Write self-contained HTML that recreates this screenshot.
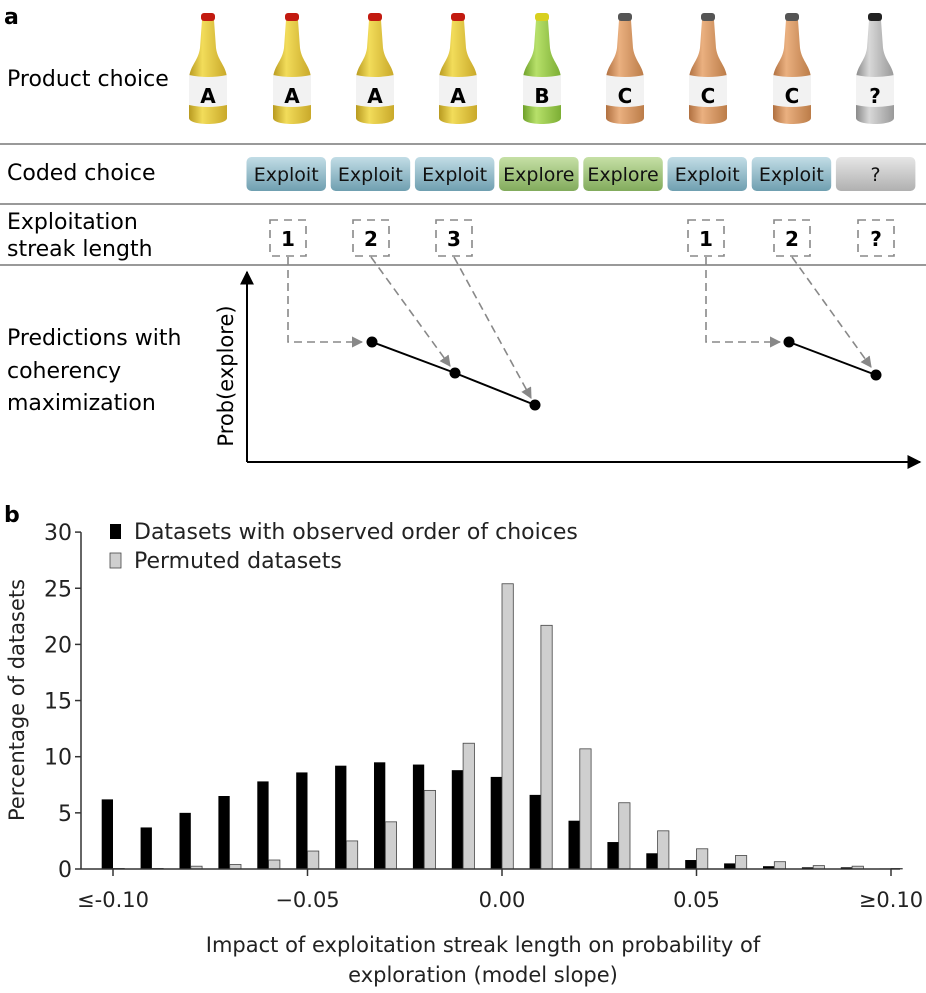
<!DOCTYPE html>
<html><head><meta charset="utf-8">
<style>
body{margin:0;background:#fff;width:926px;height:993px;overflow:hidden}
svg{display:block;font-family:"DejaVu Sans","Liberation Sans",sans-serif}
</style></head>
<body>
<svg id="fig" width="926" height="993" viewBox="0 0 926 993">
<defs>
 <linearGradient id="gA" x1="0" x2="1"><stop offset="0" stop-color="#b89a20"/><stop offset="0.35" stop-color="#f2dc5a"/><stop offset="1" stop-color="#c9a92a"/></linearGradient>
 <linearGradient id="gB" x1="0" x2="1"><stop offset="0" stop-color="#6ea02a"/><stop offset="0.35" stop-color="#b7e06a"/><stop offset="1" stop-color="#7cae34"/></linearGradient>
 <linearGradient id="gC" x1="0" x2="1"><stop offset="0" stop-color="#b07040"/><stop offset="0.35" stop-color="#eab080"/><stop offset="1" stop-color="#bb7c48"/></linearGradient>
 <linearGradient id="gQ" x1="0" x2="1"><stop offset="0" stop-color="#8a8a8a"/><stop offset="0.35" stop-color="#d8d8d8"/><stop offset="1" stop-color="#999"/></linearGradient>
 <linearGradient id="bX" x1="0" y1="0" x2="0" y2="1"><stop offset="0" stop-color="#c2dde6"/><stop offset="1" stop-color="#6f9fb0"/></linearGradient>
 <linearGradient id="bE" x1="0" y1="0" x2="0" y2="1"><stop offset="0" stop-color="#c6e0a6"/><stop offset="1" stop-color="#82ab5c"/></linearGradient>
 <linearGradient id="bQ" x1="0" y1="0" x2="0" y2="1"><stop offset="0" stop-color="#e6e6e6"/><stop offset="1" stop-color="#b0b0b0"/></linearGradient>
 <marker id="ah" viewBox="0 0 10 10" refX="9" refY="5" markerWidth="7" markerHeight="7" orient="auto"><path d="M0,0 L10,5 L0,10 z" fill="#888"/></marker>
 <marker id="ak" viewBox="0 0 10 10" refX="9" refY="5" markerWidth="7" markerHeight="7" orient="auto"><path d="M0,0 L10,5 L0,10 z" fill="#000"/></marker>
</defs>

<text x="4" y="24" font-size="22" font-weight="bold">a</text>
<text x="7" y="86" font-size="22">Product choice</text>
<g id="bottles"></g>
<line x1="0" y1="144" x2="926" y2="144" stroke="#999" stroke-width="2"/>
<text x="7" y="180" font-size="22">Coded choice</text>
<g id="buttons"></g>
<line x1="0" y1="204" x2="926" y2="204" stroke="#999" stroke-width="2"/>
<text x="7" y="229" font-size="22">Exploitation</text>
<text x="7" y="256" font-size="22">streak length</text>
<g id="boxes"></g>
<line x1="0" y1="265" x2="926" y2="265" stroke="#999" stroke-width="2"/>
<text x="7" y="345" font-size="22">Predictions with</text>
<text x="7" y="378" font-size="22">coherency</text>
<text x="7" y="410" font-size="22">maximization</text>
<text transform="translate(233,376) rotate(-90)" text-anchor="middle" font-size="21">Prob(explore)</text>
<line x1="247" y1="462" x2="247" y2="272" stroke="#000" stroke-width="2" marker-end="url(#ak)"/>
<line x1="247" y1="462" x2="920" y2="462" stroke="#000" stroke-width="2" marker-end="url(#ak)"/>
<g fill="none" stroke="#888" stroke-width="1.6" stroke-dasharray="8,5" marker-end="url(#ah)">
 <path d="M288,257 V342 H362"/>
 <path d="M371,257 L450,366"/>
 <path d="M454,257 L531,398"/>
 <path d="M706,257 V342 H780"/>
 <path d="M792,257 L871,367"/>
</g>
<polyline points="372,342 455,373 535,405" fill="none" stroke="#000" stroke-width="2"/>
<polyline points="789,342 876,375" fill="none" stroke="#000" stroke-width="2"/>
<g fill="#000">
 <circle cx="372" cy="342" r="5.5"/><circle cx="455" cy="373" r="5.5"/><circle cx="535" cy="405" r="5.5"/>
 <circle cx="789" cy="342" r="5.5"/><circle cx="876" cy="375" r="5.5"/>
</g>

<text x="4" y="522" font-size="22" font-weight="bold">b</text>
<g id="chart"></g>
</svg>
<script>
const NS='http://www.w3.org/2000/svg';
function mk(tag,attrs,parent,txt){const e=document.createElementNS(NS,tag);for(const k in attrs)e.setAttribute(k,attrs[k]);if(txt!==undefined)e.textContent=txt;parent.appendChild(e);return e;}

// bottles
const bottleX=[208,292,375,458,542,625,708,792,875];
const bottleLabels=['A','A','A','A','B','C','C','C','?'];
const bottleFill={A:'url(#gA)',B:'url(#gB)',C:'url(#gC)','?':'url(#gQ)'};
const capFill={A:'#c21a10',B:'#d8d020',C:'#555','?':'#222'};
const bg=document.getElementById('bottles');
bottleX.forEach((cx,i)=>{
 const L=bottleLabels[i];
 const g=mk('g',{},bg);
 
 
 const d=`M${cx-6},20 L${cx+6},20 L${cx+8},48 C${cx+10},62 ${cx+19},66 ${cx+19},80 L${cx+19},118 C${cx+19},126 ${cx-19},126 ${cx-19},118 L${cx-19},80 C${cx-19},66 ${cx-10},62 ${cx-8},48 Z`;
 mk('path',{d:d,fill:bottleFill[L]},g);
 mk('rect',{x:cx-7,y:13,width:14,height:8,rx:3,fill:capFill[L]},g);
 mk('path',{d:`M${cx-19},75 Q${cx},79 ${cx+19},75 L${cx+19},105 Q${cx},109 ${cx-19},105 Z`,fill:'#f2f2f2'},g);
 mk('text',{x:cx,y:103,'text-anchor':'middle','font-size':'20','font-weight':'bold'},g,L);
});

// buttons
const btnLabels=['Exploit','Exploit','Exploit','Explore','Explore','Exploit','Exploit','?'];
const btnFill={Exploit:'url(#bX)',Explore:'url(#bE)','?':'url(#bQ)'};
const bt=document.getElementById('buttons');
btnLabels.forEach((lab,i)=>{
 const x=246.5+i*84.2;
 const g=mk('g',{},bt);
 
 
 mk('rect',{x:x,y:157,width:79.5,height:34,rx:5,fill:btnFill[lab]},g);
 mk('text',{x:x+39.7,y:181,'text-anchor':'middle','font-size':'19',fill:'#111'},g,lab);
});

// streak boxes
const boxX=[288,371,454,706,792,876];
const boxLabels=['1','2','3','1','2','?'];
const bx=document.getElementById('boxes');
boxX.forEach((cx,i)=>{
 const g=mk('g',{},bx);
 
 
 mk('rect',{x:cx-18,y:220,width:36,height:36,fill:'none',stroke:'#888','stroke-width':'1.6','stroke-dasharray':'8,6'},g);
 mk('text',{x:cx,y:246,'text-anchor':'middle','font-size':'20','font-weight':'bold'},g,boxLabels[i]);
});

// histogram data
const binCenters=[-0.10,-0.09,-0.08,-0.07,-0.06,-0.05,-0.04,-0.03,-0.02,-0.01,0.00,0.01,0.02,0.03,0.04,0.05,0.06,0.07,0.08,0.09,0.10];
const observed=[6.2,3.7,5.0,6.5,7.8,8.6,9.2,9.5,9.3,8.8,8.2,6.6,4.3,2.4,1.4,0.8,0.5,0.25,0.15,0.15,0.05];
const permuted=[0.05,0.05,0.25,0.4,0.8,1.6,2.5,4.2,7.0,11.2,25.4,21.7,10.7,5.9,3.4,1.8,1.2,0.65,0.3,0.25,0.05];
const yTicks=[0,5,10,15,20,25,30];
const xTicks=[-0.10,-0.05,0.00,0.05,0.10];
const xTickLabels=['≤-0.10','−0.05','0.00','0.05','≥0.10'];

const X=v=>502+v*3890;
const Y=v=>869-v*11.23;
const ch=document.getElementById('chart');
const bw=11.3;
binCenters.forEach((c,i)=>{
 const b=mk('rect',{x:X(c)-bw,y:Y(observed[i]),width:bw,height:Y(0)-Y(observed[i]),fill:'#000'},ch);
 
 
 const p=mk('rect',{x:X(c),y:Y(permuted[i]),width:bw,height:Y(0)-Y(permuted[i]),fill:'#cfcfcf',stroke:'#444','stroke-width':'0.8'},ch);
 
 
});
const ya=mk('line',{x1:81,y1:Y(30),x2:81,y2:Y(0),stroke:'#333','stroke-width':'1.5'},ch);


const xa=mk('line',{x1:81,y1:Y(0),x2:900,y2:Y(0),stroke:'#333','stroke-width':'1.5'},ch);


yTicks.forEach(t=>{
 mk('line',{x1:75,y1:Y(t),x2:81,y2:Y(t),stroke:'#333','stroke-width':'1.5'},ch);
 const l=mk('text',{x:72,y:Y(t)+8,'text-anchor':'end','font-size':'22',fill:'#222'},ch,String(t));
 
 
});
xTicks.forEach((t,i)=>{
 mk('line',{x1:X(t),y1:Y(0),x2:X(t),y2:Y(0)+7,stroke:'#333','stroke-width':'1.5'},ch);
 const l=mk('text',{x:X(t),y:907,'text-anchor':'middle','font-size':'21',fill:'#222'},ch,xTickLabels[i]);
 
 
});
const yt=mk('text',{transform:'translate(24,700) rotate(-90)','text-anchor':'middle','font-size':'21',fill:'#222'},ch,'Percentage of datasets');


const xt1=mk('text',{x:483,y:952,'text-anchor':'middle','font-size':'21',fill:'#222'},ch,'Impact of exploitation streak length on probability of');


const xt2=mk('text',{x:483,y:982,'text-anchor':'middle','font-size':'21',fill:'#222'},ch,'exploration (model slope)');


const lg=mk('g',{},ch);


mk('rect',{x:110,y:524,width:11,height:15,fill:'#000'},lg);
mk('text',{x:134,y:539,'font-size':'22',fill:'#222'},lg,'Datasets with observed order of choices');
mk('rect',{x:110,y:553,width:11,height:15,fill:'#cfcfcf',stroke:'#444','stroke-width':'0.8'},lg);
mk('text',{x:134,y:568,'font-size':'22',fill:'#222'},lg,'Permuted datasets');
</script>
</body></html>
